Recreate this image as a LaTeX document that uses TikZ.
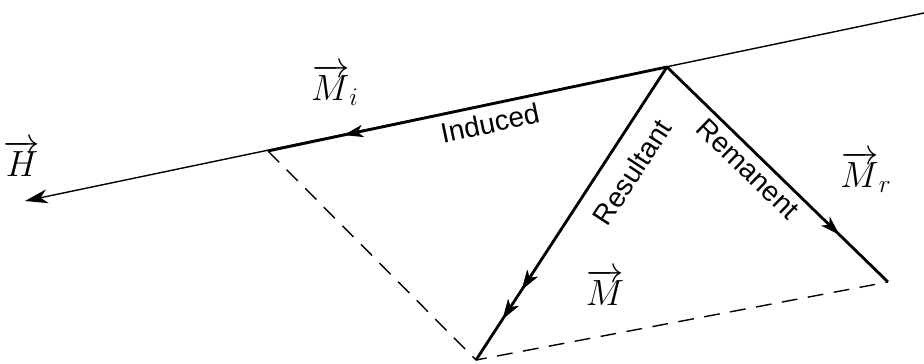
\documentclass[tikz,border=0pt]{standalone}
\usepackage{fontspec}
\setsansfont{Liberation Sans}
\usetikzlibrary{arrows.meta,decorations.markings}

\begin{document}
\begin{tikzpicture}[x=0.02cm,y=-0.02cm,
    vecline/.style={line width=1.6pt},
    midarrow/.style={postaction={decorate},
        decoration={markings,mark=at position #1 with {\arrow{Stealth[length=11pt,width=7pt,inset=3pt]}}}},
    lbl/.style={font=\sffamily\fontsize{16}{18}\selectfont,inner sep=1pt},
    sym/.style={font=\fontsize{20}{22}\selectfont}]
    \useasboundingbox (0,0) rectangle (924,364);
    % Puntos del paralelogramo
    \coordinate (O) at (667,67);
    \coordinate (Mi) at (268,151);
    \coordinate (Mr) at (888,282);
    \coordinate (M) at (476,360);
    \coordinate (Hend) at (25,201);
    \coordinate (Hstart) at (924,13);
    % Eje del campo H
    \draw[line width=0.8pt,-{Stealth[length=13pt,width=8pt,inset=4pt]}] (Hstart) -- (Hend);
    % Lineas discontinuas
    \draw[line width=0.8pt,dash pattern=on 9pt off 6pt] (Mi) -- (M) -- (Mr);
    % Vectores
    \draw[vecline,midarrow=0.81] (O) -- (Mi);
    \draw[vecline,midarrow=0.78] (O) -- (Mr);
    \draw[vecline,midarrow=0.76,midarrow=0.86] (O) -- (M);
    % Etiquetas
    \node[lbl,rotate=11.9] (induced) at (490,123) {Induced};
    \node[lbl,rotate=56.9] (resultant) at (632,172) {Resultant};
    \node[lbl,rotate=-44.2] (remanent) at (748,169) {Remanent};
    \node[sym] (Hlbl) at (22,158) {$\overrightarrow{H}$};
    \node[sym] (Milbl) at (335,85) {$\overrightarrow{M}_i$};
    \node[sym] (Mrlbl) at (866,172) {$\overrightarrow{M}_r$};
    \node[sym] (Mlbl) at (605,287) {$\overrightarrow{M}$};
\end{tikzpicture}
\end{document}
